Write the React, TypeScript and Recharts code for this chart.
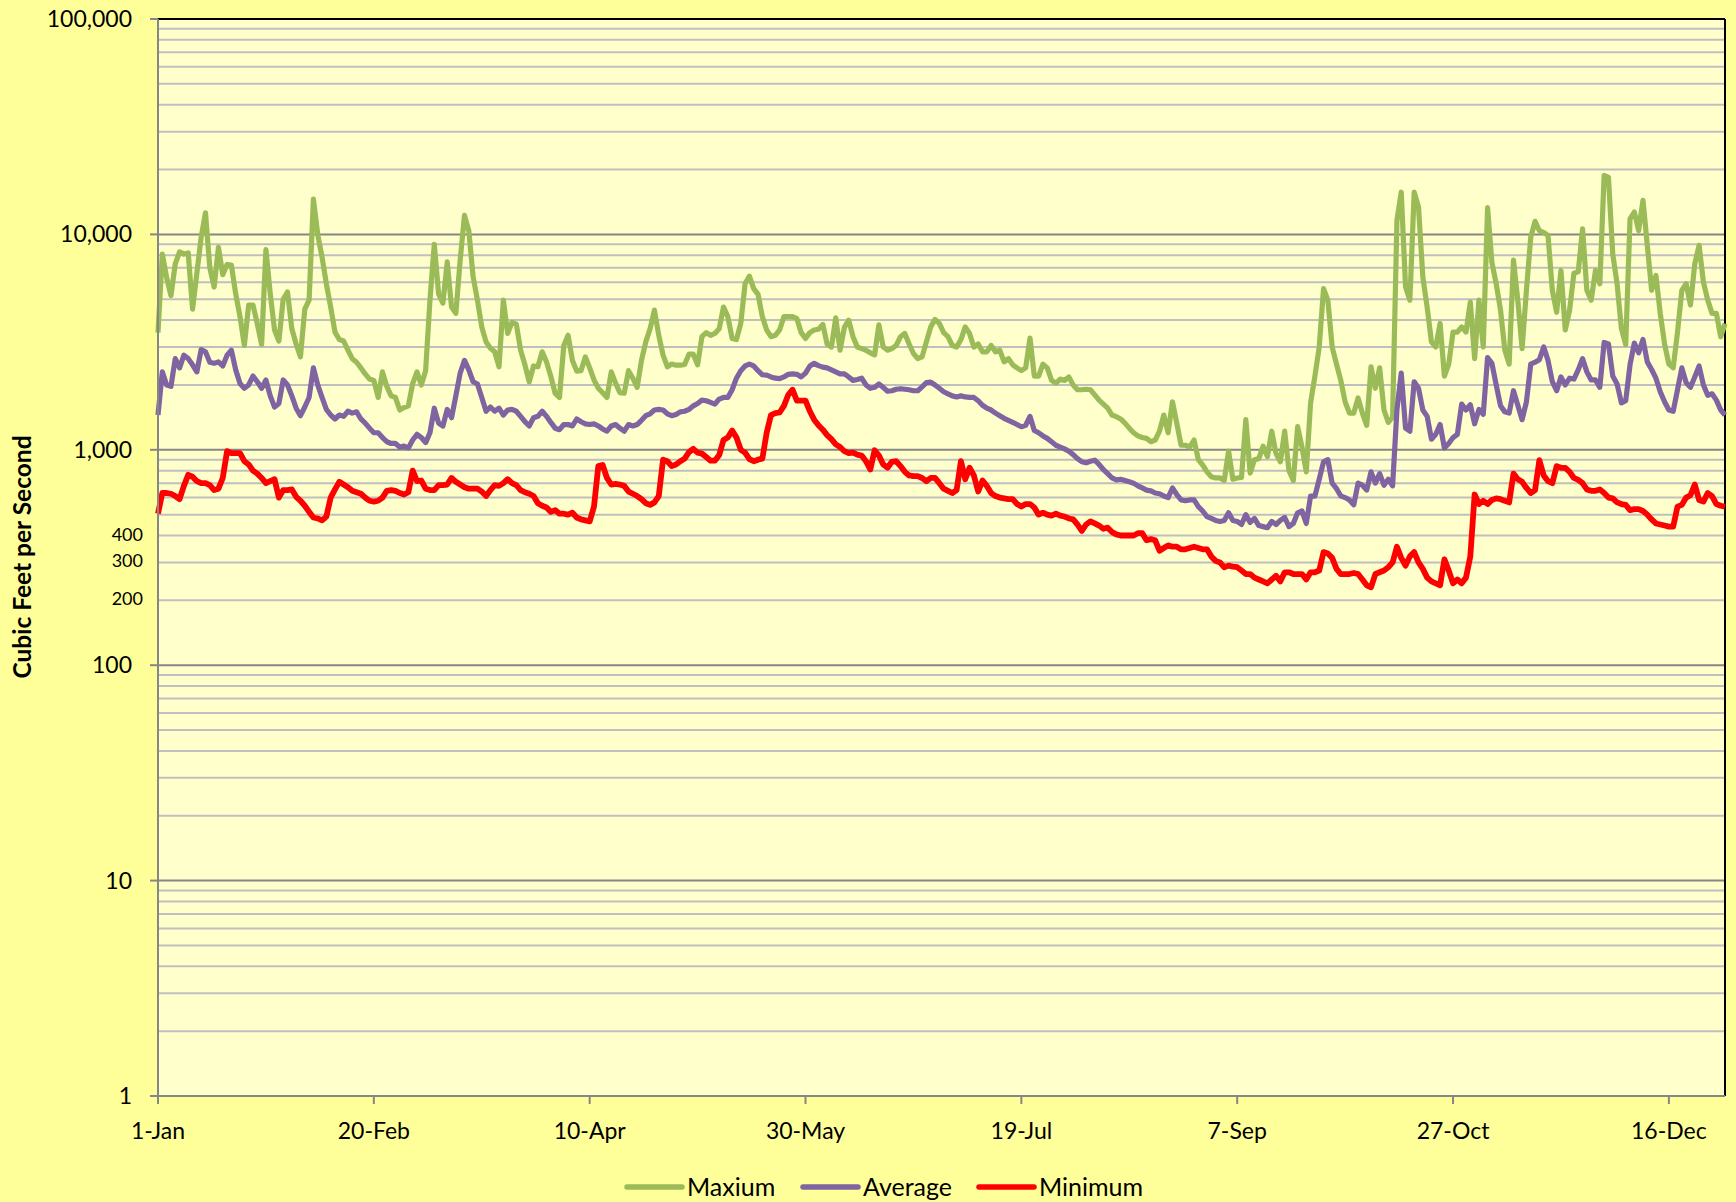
import React from "react";
import {
  LineChart,
  Line,
  XAxis,
  YAxis,
  CartesianGrid,
  ReferenceLine,
} from "recharts";

// daily flow values, cubic feet per second, day 0 = 1-Jan
const maxium = [
  3500, 8100, 6300, 5200, 7300, 8300, 8100, 8200, 4500, 6600,
  9700, 12600, 7000, 5700, 8700, 6500, 7250, 7200, 5300, 4150,
  3050, 4700, 4700, 3850, 3080, 8500, 5300, 3600, 3200, 5000,
  5400, 3650, 3100, 2700, 4500, 4950, 14600, 10000, 7850, 5900,
  4600, 3520, 3250, 3200, 2900, 2650, 2550, 2400, 2250, 2130,
  2100, 1750, 2300, 1970, 1780, 1750, 1530, 1570, 1600, 2030,
  2300, 2000, 2330, 4950, 9000, 5300, 4800, 7450, 4600, 4300,
  7600, 12250, 10400, 6350, 4950, 3720, 3170, 2960, 2850, 2430,
  4950, 3470, 3900, 3830, 2900, 2480, 2070, 2450, 2430, 2850,
  2560, 2190, 1830, 1750, 3050, 3400, 2600, 2320, 2330, 2700,
  2400, 2110, 1930, 1840, 1750, 2300, 2040, 1840, 1830, 2330,
  2150, 1950, 2600, 3170, 3650, 4450, 3400, 2750, 2430, 2500,
  2470, 2470, 2490, 2780, 2780, 2480, 3350, 3500, 3400, 3470,
  3650, 4600, 4150, 3290, 3250, 3860, 5900, 6400, 5600, 5270,
  4150, 3600, 3350, 3400, 3600, 4150, 4150, 4150, 4060, 3500,
  3290, 3500, 3600, 3630, 3820, 3100, 3000, 4100, 2900, 3700,
  4000, 3350, 3000, 2950, 2900, 2820, 2760, 3800, 3000, 2900,
  2950, 3050, 3350, 3470, 3100, 2800, 2650, 2700, 3170, 3720,
  4030, 3860, 3500, 3350, 3050, 3000, 3250, 3720, 3470, 3000,
  3100, 2850, 2850, 3050, 2850, 2900, 2560, 2650, 2480, 2400,
  2330, 2400, 3300, 2200, 2200, 2500, 2400, 2100, 2040, 2130,
  2100, 2180, 2000, 1900, 1900, 1910, 1900, 1800, 1700, 1630,
  1560, 1450, 1425, 1390, 1330, 1260, 1200, 1160, 1140, 1130,
  1090, 1110, 1220, 1450, 1200, 1670, 1330, 1050, 1050, 1030,
  1110, 900, 850, 790, 750, 740, 740, 720, 985, 730,
  740, 745, 1380, 780, 900, 910, 1040, 930, 1220, 960,
  880, 1220, 800, 720, 1280, 1030, 790, 1650, 2200, 3000,
  5600, 4950, 3000, 2500, 2100, 1670, 1480, 1480, 1740, 1480,
  1300, 2430, 1930, 2400, 1530, 1340, 1420, 11600, 15700, 5700,
  4950, 15700, 13400, 6350, 4600, 3170, 3000, 3860, 2200, 2500,
  3520, 3520, 3720, 3520, 4850, 2650, 4950, 3000, 13300, 7400,
  5900, 4450, 2900, 2500, 7600, 4950, 2950, 5500, 9700, 11500,
  10400, 10200, 9900, 5500, 4350, 6800, 3600, 4450, 6600, 6700,
  10600, 5500, 4950, 6800, 5900, 18800, 18400, 8100, 5900, 3650,
  3080, 11800, 12700, 10400, 14400, 8900, 5500, 6450, 4300, 3100,
  2500, 2400, 3520, 5500, 5900, 4700, 7300, 8900, 6000, 4950,
  4300, 4300, 3350, 3850,
];

const average = [
  1450, 2300, 2000, 1970, 2650, 2400, 2750, 2650, 2480, 2300,
  2920, 2850, 2550, 2520, 2560, 2450, 2750, 2900, 2350, 2030,
  1930, 2000, 2200, 2070, 1930, 2110, 1780, 1580, 1640, 2110,
  2000, 1780, 1560, 1440, 1580, 1750, 2400, 2000, 1750, 1540,
  1450, 1390, 1450, 1430, 1510, 1480, 1500, 1390, 1330, 1260,
  1200, 1200, 1140, 1090, 1070, 1070, 1030, 1040, 1020, 1110,
  1180, 1140, 1080, 1200, 1560, 1330, 1290, 1540, 1410, 1780,
  2270, 2600, 2350, 2070, 2020, 1750, 1510, 1580, 1510, 1560,
  1450, 1530, 1540, 1510, 1430, 1350, 1290, 1410, 1430, 1510,
  1430, 1340, 1260, 1240, 1310, 1310, 1290, 1390, 1350, 1320,
  1310, 1320, 1290, 1250, 1220, 1290, 1310, 1260, 1220, 1310,
  1290, 1310, 1370, 1440, 1470, 1530, 1540, 1530, 1470, 1440,
  1460, 1500, 1510, 1540, 1600, 1640, 1700, 1690, 1660, 1630,
  1720, 1750, 1750, 1900, 2150, 2330, 2450, 2500, 2450, 2330,
  2230, 2220, 2180, 2150, 2140, 2180, 2240, 2250, 2240, 2180,
  2270, 2450, 2520, 2460, 2420, 2400, 2350, 2300, 2250, 2250,
  2180, 2100, 2120, 2150, 2000, 1930, 1950, 2020, 1950, 1870,
  1880, 1910, 1920, 1910, 1900, 1880, 1880, 1960, 2050, 2060,
  2000, 1930, 1860, 1820, 1780, 1760, 1780, 1760, 1750, 1750,
  1690, 1610, 1560, 1530, 1480, 1440, 1400, 1370, 1340, 1310,
  1280, 1300, 1430, 1230, 1200, 1160, 1130, 1090, 1050, 1030,
  1010, 985, 950, 910, 880, 870, 885, 895, 855, 810,
  775, 740, 725, 730, 720, 710, 700, 680, 665, 650,
  645, 630, 625, 610, 600, 665, 620, 585, 580, 585,
  585, 545, 520, 490, 480, 470, 465, 470, 510, 470,
  465, 450, 500, 460, 480, 445, 440, 435, 465, 450,
  470, 485, 440, 455, 510, 520, 455, 610, 610, 730,
  880, 900, 700, 660, 610, 600, 585, 555, 700, 685,
  650, 790, 700, 775, 685, 730, 680, 1530, 2270, 1260,
  1220, 2070, 1930, 1530, 1430, 1120, 1180, 1310, 1020, 1070,
  1140, 1180, 1630, 1530, 1620, 1320, 1540, 1460, 2680, 2520,
  2000, 1600, 1500, 1480, 1880, 1610, 1380, 1670, 2500, 2550,
  2620, 3000, 2600, 2070, 1880, 2180, 2000, 2150, 2130, 2350,
  2650, 2300, 2110, 2110, 1950, 3150, 3100, 2200, 2020, 1650,
  1690, 2480, 3130, 2820, 3250, 2560, 2360, 2150, 1860, 1670,
  1530, 1510, 1900, 2400, 2050, 1950, 2180, 2450, 2000, 1790,
  1820, 1700, 1530, 1450,
];

const minimum = [
  505, 630, 630, 625, 610, 590, 680, 765, 750, 715,
  700, 700, 685, 650, 660, 740, 985, 965, 965, 965,
  885, 855, 800, 775, 740, 700, 715, 730, 600, 650,
  650, 655, 605, 580, 550, 515, 485, 480, 470, 490,
  600, 655, 710, 690, 670, 645, 635, 625, 600, 580,
  575, 580, 600, 645, 650, 645, 630, 620, 635, 800,
  715, 720, 660, 650, 650, 685, 685, 690, 740, 710,
  690, 670, 660, 660, 660, 640, 610, 650, 685, 680,
  700, 730, 700, 685, 650, 635, 625, 610, 565, 550,
  540, 515, 525, 505, 505, 500, 510, 485, 475, 470,
  465, 545, 840, 850, 740, 690, 695, 690, 680, 640,
  625, 610, 590, 565, 555, 570, 610, 900, 885, 840,
  855, 885, 910, 975, 1010, 970, 960, 925, 890, 890,
  945, 1110, 1140, 1230, 1140, 1000, 970, 905, 885, 900,
  910, 1200, 1450, 1480, 1490, 1600, 1800, 1900, 1690, 1690,
  1690, 1510, 1380, 1300, 1240, 1170, 1120, 1060, 1030, 985,
  965, 970, 950, 940, 885, 810, 995, 940, 855, 825,
  880, 885, 840, 790, 760, 755, 755, 740, 715, 740,
  740, 700, 660, 645, 630, 650, 885, 730, 825, 760,
  640, 720, 680, 630, 610, 600, 595, 590, 590, 560,
  545, 560, 560, 540, 500, 510, 500, 495, 505, 495,
  490, 480, 475, 450, 420, 450, 465, 455, 445, 430,
  435, 415, 405, 400, 400, 400, 400, 410, 410, 380,
  385, 380, 340, 350, 360, 355, 355, 345, 345, 350,
  355, 350, 345, 345, 320, 305, 300, 285, 290, 287,
  285, 275, 265, 265, 255, 250, 245, 240, 250, 260,
  245, 270, 270, 265, 265, 265, 250, 270, 270, 275,
  335, 330, 315, 280, 265, 265, 265, 268, 265, 250,
  235, 230, 265, 270, 275, 285, 300, 355, 315, 290,
  320, 335, 300, 280, 255, 245, 240, 235, 310, 275,
  240, 250, 240, 255, 320, 620, 560, 580, 560, 585,
  595, 590, 580, 570, 775, 730, 710, 665, 630, 650,
  895, 760, 715, 700, 840, 825, 825, 790, 740, 725,
  700, 655, 645, 645, 655, 630, 600, 595, 570, 560,
  555, 525, 530, 530, 520, 500, 475, 455, 450, 445,
  440, 440, 545, 555, 600, 615, 690, 585, 575, 630,
  610, 560, 550, 545,
];

const seriesNames = ["Maxium", "Average", "Minimum"];
const seriesColors = ["#9BBB59", "#8064A2", "#FF0000"];

const xTickDays = [0, 50, 100, 150, 200, 250, 300, 350];
const xTickLabels = ["1-Jan", "20-Feb", "10-Apr", "30-May", "19-Jul", "7-Sep", "27-Oct", "16-Dec"];

const yTicks = [1, 10, 100, 200, 300, 400, 1000, 10000, 100000];
const yTickLabels = ["1", "10", "100", "200", "300", "400", "1,000", "10,000", "100,000"];
const smallTicks = [200, 300, 400];

const decades = [1, 10, 100, 1000, 10000];
const minorSteps = [2, 3, 4, 5, 6, 7, 8, 9];
const majorLines = [10, 100, 1000, 10000];
const minorLines = decades.flatMap((d) => minorSteps.map((s) => s * d));

const data = maxium.map((v, i) => ({
  day: i,
  max: v,
  avg: average[i],
  min: minimum[i],
}));

const FONT = "Lato, 'Open Sans', sans-serif";

const YTick = (props: any) => {
  const { y, payload } = props;
  const v = payload.value;
  const label = yTickLabels[yTicks.indexOf(v)];
  if (smallTicks.includes(v)) {
    return (
      <text x={143} y={y + 5} textAnchor="end" fontSize={18} fill="#000" fontFamily={FONT}>
        {label}
      </text>
    );
  }
  return (
    <g>
      <line x1={150} x2={158} y1={y} y2={y} stroke="#868686" strokeWidth={2} />
      <text x={132} y={y + 8} textAnchor="end" fontSize={23} fill="#000" fontFamily={FONT}>
        {label}
      </text>
    </g>
  );
};

const XTick = (props: any) => {
  const { x, payload } = props;
  const label = xTickLabels[xTickDays.indexOf(payload.value)];
  return (
    <g>
      <line x1={x} x2={x} y1={1096} y2={1104} stroke="#868686" strokeWidth={2} />
      <text x={x} y={1139} textAnchor="middle" fontSize={23} fill="#000" fontFamily={FONT}>
        {label}
      </text>
    </g>
  );
};

const legendX = [627, 803, 979];

export default function App() {
  return (
    <div
      style={{
        position: "absolute",
        left: 0,
        top: 0,
        width: 1736,
        height: 1202,
        background: "#FFFF99",
        fontFamily: FONT,
      }}
    >
      <LineChart
        width={1736}
        height={1202}
        data={data}
        margin={{ top: 19, right: 11, bottom: 0, left: 0 }}
      >
        <CartesianGrid fill="#FFFFCC" horizontal={false} vertical={false} />
        {minorLines.map((v) => (
          <ReferenceLine key={"mn" + v} y={v} stroke="#BFBFBF" strokeWidth={2} />
        ))}
        {majorLines.map((v) => (
          <ReferenceLine key={"mj" + v} y={v} stroke="#868686" strokeWidth={2} />
        ))}
        <ReferenceLine y={100000} stroke="#000" strokeWidth={2} />
        <ReferenceLine x={363} stroke="#000" strokeWidth={2} />
        <XAxis
          type="number"
          dataKey="day"
          domain={[0, 363]}
          ticks={xTickDays}
          interval={0}
          height={106}
          tickLine={false}
          tick={<XTick />}
          axisLine={{ stroke: "#868686", strokeWidth: 2 }}
        />
        <YAxis
          scale="log"
          domain={[1, 100000]}
          ticks={yTicks}
          interval={0}
          width={158}
          tickLine={false}
          tick={<YTick />}
          axisLine={{ stroke: "#868686", strokeWidth: 2 }}
          allowDataOverflow
        />
        <Line
          type="linear"
          dataKey="max"
          name={seriesNames[0]}
          stroke={seriesColors[0]}
          strokeWidth={5.2}
          strokeLinejoin="round"
          dot={false}
          isAnimationActive={false}
        />
        <Line
          type="linear"
          dataKey="avg"
          name={seriesNames[1]}
          stroke={seriesColors[1]}
          strokeWidth={5.2}
          strokeLinejoin="round"
          dot={false}
          isAnimationActive={false}
        />
        <Line
          type="linear"
          dataKey="min"
          name={seriesNames[2]}
          stroke={seriesColors[2]}
          strokeWidth={5.8}
          strokeLinejoin="round"
          dot={false}
          isAnimationActive={false}
        />
      </LineChart>
      <svg
        width={1736}
        height={1202}
        style={{ position: "absolute", left: 0, top: 0, pointerEvents: "none" }}
      >
        <text
          transform="translate(31,557) rotate(-90)"
          textAnchor="middle"
          fontSize={24.5}
          fontWeight="bold"
          fill="#000"
          fontFamily={FONT}
        >
          Cubic Feet per Second
        </text>
        {seriesNames.map((name, i) => (
          <g key={name}>
            <line
              x1={legendX[i]}
              x2={legendX[i] + 55}
              y1={1187}
              y2={1187}
              stroke={seriesColors[i]}
              strokeWidth={5.5}
              strokeLinecap="round"
            />
            <text x={legendX[i] + 60} y={1196} fontSize={25} fill="#000" fontFamily={FONT}>
              {name}
            </text>
          </g>
        ))}
      </svg>
    </div>
  );
}
